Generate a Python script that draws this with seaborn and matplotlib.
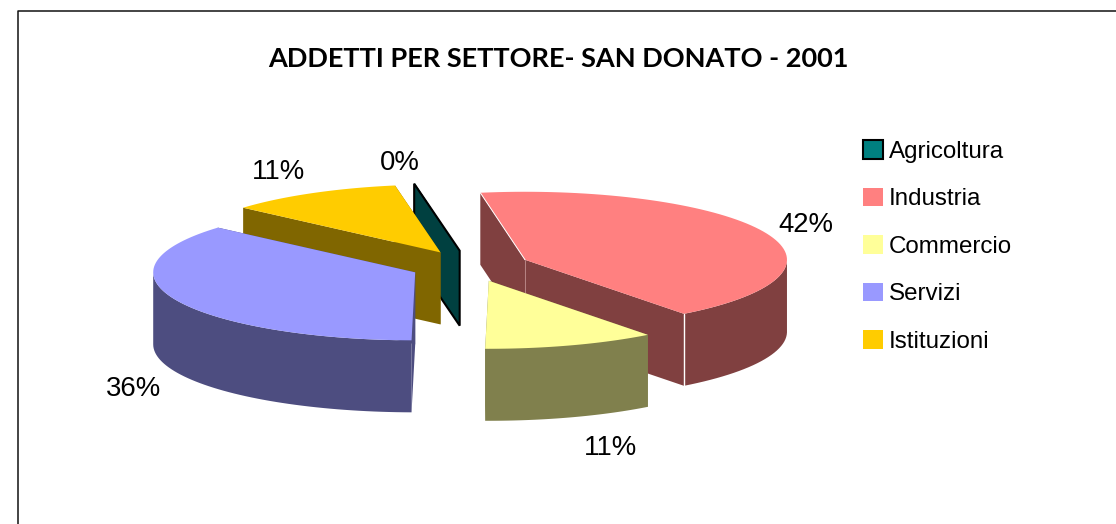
import numpy as np
import matplotlib
matplotlib.use("Agg")
import matplotlib.pyplot as plt
from matplotlib.patches import Patch
import seaborn as sns

# Data
categories = ["Agricoltura", "Industria", "Commercio", "Servizi", "Istituzioni"]
shares = [0.05, 42.35, 10.6, 36.2, 10.8]
colors = ["#008080", "#FF8080", "#FFFF99", "#9999FF", "#FFCC00"]
title = "ADDETTI PER SETTORE- SAN DONATO - 2001"

sns.set_theme(style="white")
palette = sns.color_palette(colors)

# Pie geometry, in pixels of the figure
center = (470, 266)
rx, ry = 262, 68
depth = 72
explode = 60
start_angle = -10

fig, ax = plt.subplots(figsize=(11.16, 5.24), dpi=100)
ax.set_position([0, 0, 1, 1])
ax.set_xlim(0, 1116)
ax.set_ylim(524, 0)
ax.axis("off")

# Frame of the chart area (only left and top are in the picture)
ax.plot([18, 18, 1116], [524, 10.5, 10.5], color="#111111", lw=1.1, zorder=1)

fracs = np.array(shares) / sum(shares)
edges = start_angle + np.concatenate([[0], np.cumsum(fracs)]) * 360


def point(c, t, r=1.0):
    a = np.radians(t)
    return c[0] + r * rx * np.sin(a), c[1] - r * ry * np.cos(a)


def shade(col):
    return tuple(v * 0.5 for v in col)


# Back slices first, front ones last
draw_order = [0, 4, 1, 2, 3]
z = 2
for i in draw_order:
    t0, t1 = edges[i], edges[i + 1]
    mid = np.radians((t0 + t1) / 2)
    c = (center[0] + explode * np.sin(mid),
         center[1] - explode * (ry / rx) * np.cos(mid))
    col = palette[i]
    dark = shade(col)
    ang = np.linspace(t0, t1, 80)
    ax_, ay_ = point(c, ang)

    # radial walls
    for t in (t1, t0):
        px, py = point(c, t)
        ax.fill([c[0], px, px, c[0]], [c[1], py, py + depth, c[1] + depth],
                color=dark, lw=0, zorder=z)
    # outer wall, only the part facing the viewer
    front = ang[(np.mod(ang, 360) >= 90) & (np.mod(ang, 360) <= 270)]
    if len(front) > 1:
        fx, fy = point(c, front)
        ax.fill(np.r_[fx, fx[::-1]], np.r_[fy, fy[::-1] + depth],
                color=dark, lw=0, zorder=z)
    # top
    ax.fill(np.r_[c[0], ax_], np.r_[c[1], ay_], color=col, lw=0, zorder=z + 0.5)

    if categories[i] == "Agricoltura":
        # almost no angle: the slice is a black outlined sheet
        px, py = point(c, t0)
        ax.fill([c[0], px, px, c[0]], [c[1], py, py + depth + 3, c[1] + depth + 3],
                facecolor=dark, edgecolor="black", lw=1.5, zorder=z + 0.7)
    if categories[i] == "Industria":
        px, py = point(c, t1)
        ax.plot([px, px], [py, py + depth], color="white", lw=1, zorder=z + 0.6)
        ax.plot([c[0], c[0]], [c[1], c[1] + depth], color="#C09090", lw=0.6, zorder=z + 0.6)
        px, py = point(c, t0)
        ax.plot([px, c[0]], [py, c[1]], color="white", lw=0.7, zorder=z + 0.6)
    z += 1

# Percent labels
label_pos = [(400, 163), (806, 225), (611, 448), (134, 389), (278, 172)]
for v, (x, y) in zip(shares, label_pos):
    ax.text(x, y, f"{round(v)}%", ha="center", va="center", fontsize=19.8,
            family="Liberation Sans", color="black", zorder=20)

ax.text(558, 59, title, ha="center", va="center", fontsize=19.5,
        family="Lato", fontweight="bold", color="black")

handles = [Patch(facecolor=colors[0], edgecolor="black", lw=1.5, label=categories[0])]
handles += [Patch(facecolor=c, edgecolor="none", label=n) for c, n in zip(colors[1:], categories[1:])]
ax.legend(handles=handles, loc="upper left", bbox_to_anchor=(863, 140), bbox_transform=ax.transData,
          frameon=False, prop={"family": "Liberation Sans", "size": 17.4}, labelcolor="black",
          handlelength=0.83, handleheight=0.83, handletextpad=0.25,
          labelspacing=1.02, borderaxespad=0, borderpad=0)

plt.savefig("out.png", dpi=100)
